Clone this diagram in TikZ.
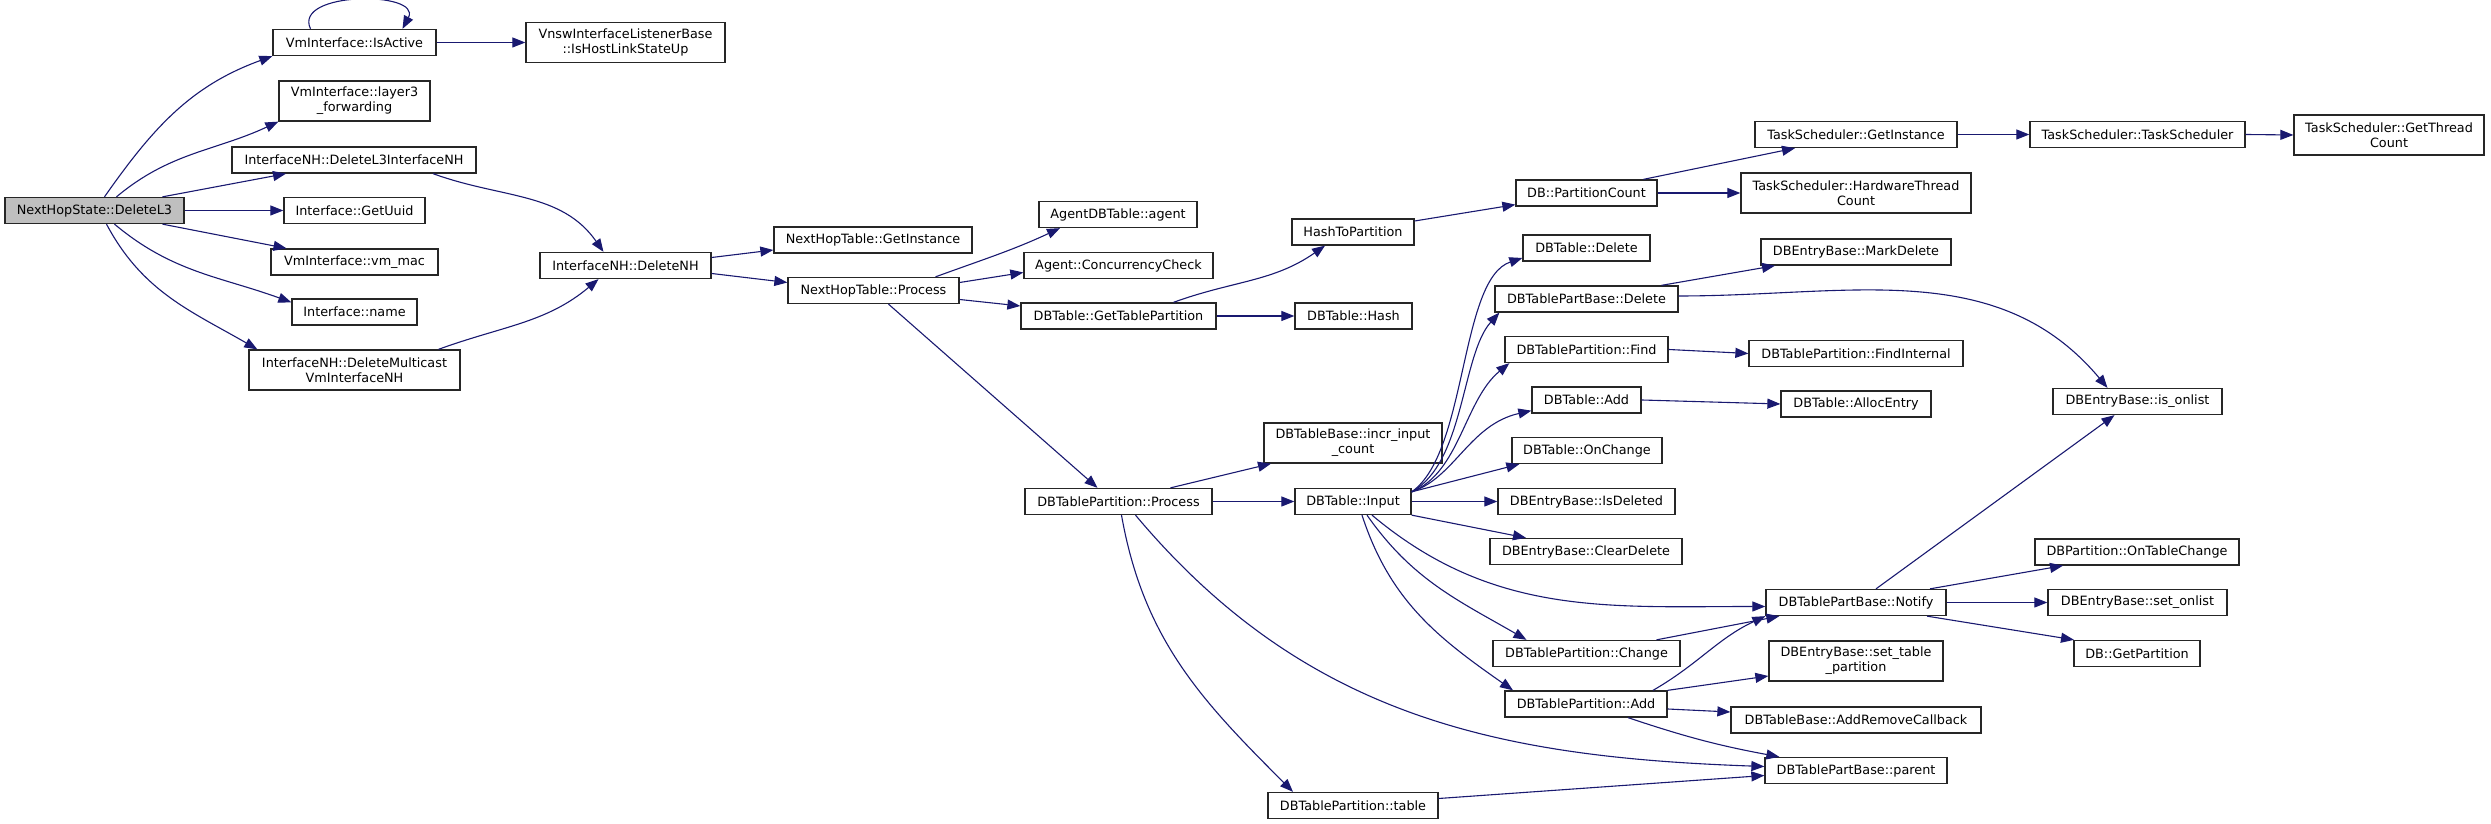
\documentclass[tikz,border=0pt]{standalone}
\usepackage{fontspec}
\setmainfont{DejaVu Sans}
\usetikzlibrary{arrows.meta}
\definecolor{edgeblue}{RGB}{25,25,112}

\begin{document}
\begin{tikzpicture}[x=1pt, y=1pt,
    font=\fontsize{12.8}{15}\selectfont,
    fn/.style={draw=black!85, line width=1.3pt, fill=white, minimum height=26pt,
        inner sep=0pt, align=center},
    two/.style={minimum height=40pt},
    call/.style={draw=edgeblue, line width=1.1pt, -{Triangle[length=13pt, width=10pt]}}]

    \useasboundingbox (0,0) rectangle (2491,824);

    % Caller
    \node[fn, fill=gray!50, minimum width=179pt] (dl3) at (94.5,613.5) {NextHopState::DeleteL3};

    % Direct callees
    \node[fn, minimum width=163pt] (isact) at (354.5,781.5) {VmInterface::IsActive};
    \node[fn, two, minimum width=151pt] (l3fwd) at (354.5,723) {VmInterface::layer3\\\_forwarding};
    \node[fn, minimum width=244pt] (dl3nh) at (354,664) {InterfaceNH::DeleteL3InterfaceNH};
    \node[fn, minimum width=141pt] (uuid) at (354.5,613.5) {Interface::GetUuid};
    \node[fn, minimum width=167pt] (vmmac) at (354.5,562) {VmInterface::vm\_mac};
    \node[fn, minimum width=125pt] (iname) at (354.5,512) {Interface::name};
    \node[fn, two, minimum width=211pt] (dmcast) at (354.5,454) {InterfaceNH::DeleteMulticast\\VmInterfaceNH};

    \node[fn, two, minimum width=199pt] (hostlink) at (625.5,781.5) {VnswInterfaceListenerBase\\::IsHostLinkStateUp};
    \node[fn, minimum width=171pt] (delnh) at (625.5,558.5) {InterfaceNH::DeleteNH};

    % Next hop table
    \node[fn, minimum width=198pt] (nhtinst) at (873,584) {NextHopTable::GetInstance};
    \node[fn, minimum width=171pt] (nhtproc) at (873.5,533.5) {NextHopTable::Process};

    \node[fn, minimum width=158pt] (agent) at (1118,609.5) {AgentDBTable::agent};
    \node[fn, minimum width=189pt] (conc) at (1118.5,558.5) {Agent::ConcurrencyCheck};
    \node[fn, minimum width=195pt] (gtp) at (1118.5,508) {DBTable::GetTablePartition};
    \node[fn, minimum width=187pt] (pproc) at (1118.5,322.5) {DBTablePartition::Process};

    \node[fn, minimum width=122pt] (h2p) at (1353,592) {HashToPartition};
    \node[fn, minimum width=117pt] (hash) at (1353.5,508) {DBTable::Hash};
    \node[fn, two, minimum width=178pt] (incr) at (1353,381) {DBTableBase::incr\_input\\\_count};
    \node[fn, minimum width=116pt] (input) at (1353,322.5) {DBTable::Input};
    \node[fn, minimum width=170pt] (ptable) at (1353,18.5) {DBTablePartition::table};

    % DB layer
    \node[fn, minimum width=141pt] (pcount) at (1586.5,631) {DB::PartitionCount};
    \node[fn, minimum width=127pt] (tdel) at (1586.5,576) {DBTable::Delete};
    \node[fn, minimum width=183pt] (pbdel) at (1586.5,525) {DBTablePartBase::Delete};
    \node[fn, minimum width=163pt] (find) at (1586.5,474.5) {DBTablePartition::Find};
    \node[fn, minimum width=109pt] (tadd) at (1586.5,424) {DBTable::Add};
    \node[fn, minimum width=150pt] (onchg) at (1587,373.5) {DBTable::OnChange};
    \node[fn, minimum width=177pt] (isdel) at (1586.5,322.5) {DBEntryBase::IsDeleted};
    \node[fn, minimum width=192pt] (clrdel) at (1586,272.5) {DBEntryBase::ClearDelete};
    \node[fn, minimum width=187pt] (chg) at (1586.5,170.5) {DBTablePartition::Change};
    \node[fn, minimum width=162pt] (padd) at (1586,120) {DBTablePartition::Add};

    \node[fn, minimum width=202pt] (tsinst) at (1856,689.5) {TaskScheduler::GetInstance};
    \node[fn, two, minimum width=230pt] (tshw) at (1856,631) {TaskScheduler::HardwareThread\\Count};
    \node[fn, minimum width=190pt] (mark) at (1856,572) {DBEntryBase::MarkDelete};
    \node[fn, minimum width=214pt] (findint) at (1856,470.5) {DBTablePartition::FindInternal};
    \node[fn, minimum width=150pt] (alloc) at (1856,420) {DBTable::AllocEntry};
    \node[fn, minimum width=180pt] (notify) at (1856,221.5) {DBTablePartBase::Notify};
    \node[fn, two, minimum width=174pt] (settp) at (1856,163) {DBEntryBase::set\_table\\\_partition};
    \node[fn, minimum width=250pt] (addrm) at (1856,104) {DBTableBase::AddRemoveCallback};
    \node[fn, minimum width=182pt] (parent) at (1856,53.5) {DBTablePartBase::parent};

    \node[fn, minimum width=215pt] (tsts) at (2137.5,689.5) {TaskScheduler::TaskScheduler};
    \node[fn, minimum width=169pt] (onlist) at (2137.5,422.5) {DBEntryBase::is\_onlist};
    \node[fn, minimum width=204pt] (ontc) at (2137,272) {DBPartition::OnTableChange};
    \node[fn, minimum width=179pt] (setonl) at (2137.5,221.5) {DBEntryBase::set\_onlist};
    \node[fn, minimum width=126pt] (getp) at (2137,170.5) {DB::GetPartition};

    \node[fn, two, minimum width=190pt] (tsgtc) at (2389,689) {TaskScheduler::GetThread\\Count};

    % Calls from the caller
    \draw[call] ([xshift=10pt]dl3.north) to[out=55, in=200] (isact.south west);
    \draw[call] ([xshift=22pt]dl3.north) to[out=40, in=205] (l3fwd.south west);
    \draw[call] ([xshift=68pt]dl3.north) -- ([xshift=-68pt]dl3nh.south);
    \draw[call] (dl3.east) -- (uuid.west);
    \draw[call] ([xshift=68pt]dl3.south) -- ([xshift=-68pt]vmmac.north);
    \draw[call] ([xshift=20pt]dl3.south) to[out=-40, in=160] ([yshift=-4pt]iname.north west);
    \draw[call] ([xshift=12pt]dl3.south) to[out=-62, in=150] ([xshift=9pt]dmcast.north west);

    \draw[call] ([xshift=-44pt]isact.north) .. controls +(-18,38) and +(20,38) .. ([xshift=48pt]isact.north);
    \draw[call] (isact.east) -- (hostlink.west);
    \draw[call] ([xshift=79pt]dl3nh.south) to[out=-20, in=125] ([xshift=-22pt]delnh.north);
    \draw[call] ([xshift=84pt]dmcast.north) to[out=20, in=220] ([xshift=-27pt]delnh.south);

    % Next hop table calls
    \draw[call] ([yshift=8pt]delnh.east) -- ([yshift=-10pt]nhtinst.west);
    \draw[call] ([yshift=-8pt]delnh.east) -- ([yshift=8pt]nhtproc.west);
    \draw[call] ([xshift=62pt]nhtproc.north) to[out=20, in=205] ([xshift=-58pt]agent.south);
    \draw[call] ([yshift=8pt]nhtproc.east) -- ([yshift=-7pt]conc.west);
    \draw[call] ([yshift=-9pt]nhtproc.east) -- ([yshift=10pt]gtp.west);
    \draw[call] ([xshift=15pt]nhtproc.south) -- ([xshift=-21pt]pproc.north);
    \draw[call] ([xshift=55pt]gtp.north) to[out=20, in=215] ([xshift=-28pt]h2p.south);
    \draw[call] (gtp.east) -- (hash.west);
    \draw[call] ([yshift=11pt]h2p.east) -- ([yshift=2pt]pcount.south west);
    \draw[call] ([xshift=57pt]pcount.north) -- ([xshift=-61pt]tsinst.south);
    \draw[call] (pcount.east) -- (tshw.west);
    \draw[call] (tsinst.east) -- (tsts.west);
    \draw[call] (tsts.east) -- (tsgtc.west);

    % Partition processing
    \draw[call] ([xshift=52pt]pproc.north) -- ([xshift=-82pt]incr.south);
    \draw[call] (pproc.east) -- (input.west);
    \draw[call] ([xshift=3pt]pproc.south) to[out=-80, in=135] ([xshift=-60pt]ptable.north);
    \draw[call] ([xshift=17pt]pproc.south) to[out=-50, in=178] ([yshift=4pt]parent.west);
    \draw[call] ([yshift=7pt]ptable.east) -- ([yshift=-5pt]parent.west);

    \draw[call] ([yshift=-4pt]input.north east) .. controls +(56,39) and +(-63,-21) .. ([yshift=-10pt]tdel.west);
    \draw[call] ([yshift=-4pt]input.north east) .. controls +(53,29) and +(-38,-42) .. ([xshift=5pt]pbdel.south west);
    \draw[call] ([yshift=-4pt]input.north east) .. controls +(48,19) and +(-45,-37) .. ([xshift=5pt]find.south west);
    \draw[call] ([yshift=-4pt]input.north east) .. controls +(43,14) and +(-62,-14) .. ([yshift=3pt]tadd.south west);
    \draw[call] ([yshift=-4pt]input.north east) -- ([xshift=8pt]onchg.south west);
    \draw[call] (input.east) -- (isdel.west);
    \draw[call] (input.south east) -- ([xshift=-60pt]clrdel.north);
    \draw[call] ([xshift=19pt]input.south) to[out=-40, in=180] ([yshift=-4pt]notify.west);
    \draw[call] ([xshift=14pt]input.south) to[out=-55, in=150] ([xshift=-60pt]chg.north);
    \draw[call] ([xshift=9pt]input.south) to[out=-72, in=145] ([xshift=-73pt]padd.north);

    \draw[call] ([xshift=75pt]pbdel.north) -- ([xshift=-81pt]mark.south);
    \draw[call] ([yshift=3pt]pbdel.east) to[out=0, in=130] ([xshift=-30pt]onlist.north);
    \draw[call] (find.east) -- (findint.west);
    \draw[call] (tadd.east) -- (alloc.west);

    \draw[call] ([xshift=70pt]chg.north) -- ([xshift=14pt]notify.south west);
    \draw[call] ([xshift=67pt]padd.north) to[out=30, in=205] (notify.south west);
    \draw[call] (padd.north east) -- ([yshift=-15pt]settp.west);
    \draw[call] ([yshift=-5pt]padd.east) -- ([yshift=8pt]addrm.west);
    \draw[call] ([xshift=42pt]padd.south) to[bend right=4] ([xshift=15pt]parent.north west);

    % Notify
    \draw[call] ([xshift=20pt]notify.north) -- ([xshift=-23pt]onlist.south);
    \draw[call] ([xshift=74pt]notify.north) -- ([xshift=-74pt]ontc.south);
    \draw[call] (notify.east) -- (setonl.west);
    \draw[call] ([xshift=71pt]notify.south) -- ([xshift=-63pt]getp.north);

\end{tikzpicture}
\end{document}
